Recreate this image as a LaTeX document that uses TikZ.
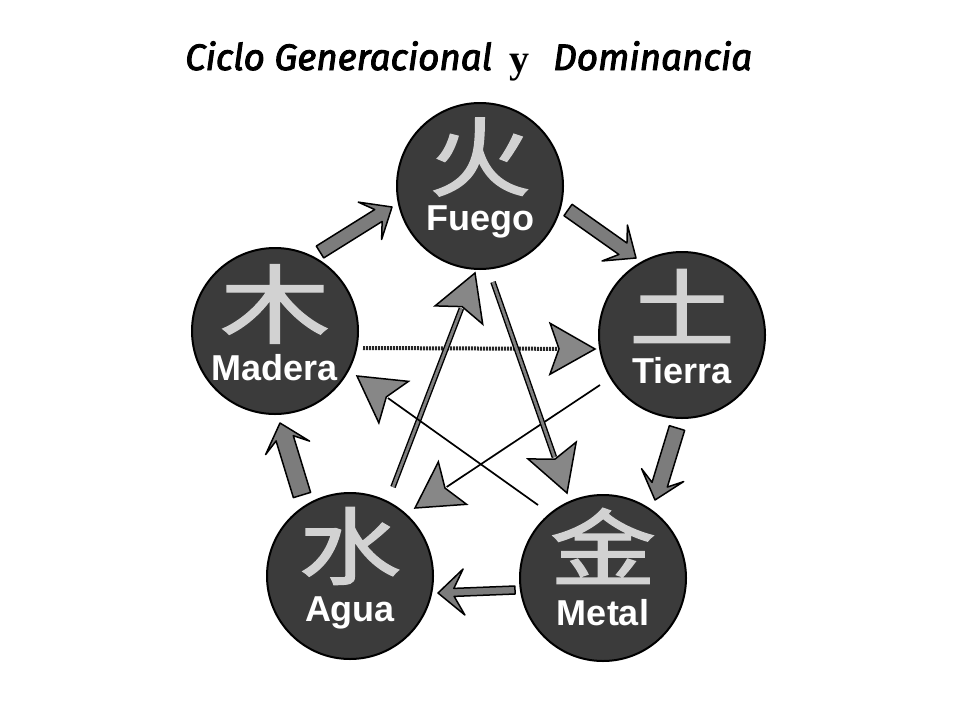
\documentclass[tikz,border=0pt]{standalone}
\usepackage{graphicx}
\usepackage{fontspec}
\setmainfont{Liberation Sans}
\newfontfamily\titlefont[FakeBold=2.6]{Fira Sans}
\newfontfamily\yfont{Liberation Serif}
\newfontfamily\cjk[FakeBold=1.6]{Noto Sans CJK SC}
\usetikzlibrary{calc}
\definecolor{disc}{HTML}{3B3B3B}
\definecolor{hanzicol}{HTML}{D2D2D2}
\definecolor{genfill}{HTML}{7C7C7C}
\definecolor{domfill}{HTML}{878787}
% block arrow: tail, tip, shaft half width, head half width, head length, join length
\newcommand\genarrow[6]{%
  \coordinate (gb) at ($(#2)!#5!(#1)$);
  \coordinate (gj) at ($(#2)!#6!(#1)$);
  \draw[genst] ($(#1)!#3!90:(#2)$) -- ($(gj)!#3!90:(#2)$) -- ($(gb)!#4!90:(#2)$)
    -- (#2) -- ($(gb)!#4!-90:(#2)$) -- ($(gj)!#3!-90:(#2)$) -- ($(#1)!#3!-90:(#2)$) -- cycle;
}
% dart head: tail, tip
\newcommand\domhead[2]{%
  \coordinate (hb) at ($(#2)!45pt!(#1)$);
  \coordinate (hi) at ($(#2)!36pt!(#1)$);
  \draw[domhd] (#2) -- ($(hb)!25.5pt!90:(#2)$) -- (hi) -- ($(hb)!25.5pt!-90:(#2)$) -- cycle;
}
\begin{document}
\begin{tikzpicture}[x=1pt,y=-1pt,
  elem/.style={circle, draw=black, line width=2pt, fill=disc, minimum size=166pt, inner sep=0pt},
  hanzi/.style={text=hanzicol, font=\cjk\fontsize{100}{100}\selectfont, inner sep=0pt},
  elabel/.style={text=white, font=\bfseries\fontsize{36}{40}\selectfont, inner sep=0pt, anchor=base},
  genst/.style={draw=black, line width=1.5pt, fill=genfill, line join=round},
  domhd/.style={draw=black, line width=1.5pt, fill=domfill, line join=miter},
  domthin/.style={draw=black, line width=1.7pt},
  domdouble/.style={draw=black, line width=1.4pt, double=black!50, double distance=2.8pt},
  domdot/.style={draw=black!85, line width=4pt, dash pattern=on 2pt off 1pt},
  ttl/.style={inner sep=0pt, anchor=base west}
]
\useasboundingbox (0,0) rectangle (960,720);
\fill[white] (0,0) rectangle (960,720);

% title
\node[ttl] (t1) at (185,70) {\resizebox{307pt}{!}{\titlefont\itshape Ciclo Generacional}};
\node[ttl] (t2) at (509,72) {\yfont\bfseries\fontsize{40}{42}\selectfont y};
\node[ttl] (t3) at (553,70) {\resizebox{199pt}{!}{\titlefont\itshape Dominancia}};

% elements
\node[elem] (fue) at (480,186) {};
\node[elem] (tie) at (682,335) {};
\node[elem] (mad) at (275,331) {};
\node[elem] (agu) at (350,576) {};
\node[elem] (met) at (603,578) {};

\node[hanzi] (fue-c) at ($(fue)+(0,-29)$) {\scalebox{1.02}[0.86]{火}};
\node[hanzi] (tie-c) at ($(tie)+(0,-29)$) {\scalebox{1.06}[0.84]{土}};
\node[hanzi] (mad-c) at ($(mad)+(0,-27)$) {\scalebox{1.1}[0.86]{木}};
\node[hanzi] (agu-c) at ($(agu)+(0,-30)$) {\scalebox{1.02}[0.84]{水}};
\node[hanzi] (met-c) at ($(met)+(0,-32)$) {\scalebox{1.06}[0.84]{金}};

\node[elabel] (fue-l) at ($(fue)+(0,44)$) {Fuego};
\node[elabel] (tie-l) at ($(tie)+(0,48)$) {Tierra};
\node[elabel] (mad-l) at ($(mad)+(0,49)$) {Madera};
\node[elabel] (agu-l) at ($(agu)+(0,45)$) {Agua};
\node[elabel] (met-l) at ($(met)+(0,47)$) {Metal};

% generating cycle (outer block arrows)
\coordinate (g1a) at (320,252); \coordinate (g1b) at (392,207);
\coordinate (g2a) at (568,210); \coordinate (g2b) at (636,258);
\coordinate (g3a) at (677,428); \coordinate (g3b) at (655,500);
\coordinate (g4a) at (515,590); \coordinate (g4b) at (438,593);
\coordinate (g5a) at (302,495); \coordinate (g5b) at (280,423);
\genarrow{g1a}{g1b}{7pt}{22pt}{26pt}{16pt}
\genarrow{g2a}{g2b}{7pt}{22pt}{26pt}{16pt}
\genarrow{g3a}{g3b}{8pt}{22pt}{26pt}{16pt}
\genarrow{g4a}{g4b}{4pt}{23pt}{26pt}{16pt}
\genarrow{g5a}{g5b}{9pt}{23pt}{26pt}{16pt}

% dominance cycle (inner star)
\coordinate (d1a) at (363,348); \coordinate (d1b) at (595,349);
\coordinate (d2a) at (600,385); \coordinate (d2b) at (415,508);
\coordinate (d3a) at (393,487); \coordinate (d3b) at (475,273);
\coordinate (d4a) at (493,282); \coordinate (d4b) at (567,493);
\coordinate (d5a) at (538,505); \coordinate (d5b) at (357,376);

\draw[domdot] (d1a) -- ($(d1b)!38pt!(d1a)$);
\draw[domthin] (d2a) -- ($(d2b)!38pt!(d2a)$);
\draw[domdouble] (d3a) -- ($(d3b)!38pt!(d3a)$);
\draw[domdouble] (d4a) -- ($(d4b)!38pt!(d4a)$);
\draw[domthin] (d5a) -- ($(d5b)!38pt!(d5a)$);
\domhead{d1a}{d1b}
\domhead{d2a}{d2b}
\domhead{d3a}{d3b}
\domhead{d4a}{d4b}
\domhead{d5a}{d5b}
\end{tikzpicture}
\end{document}
